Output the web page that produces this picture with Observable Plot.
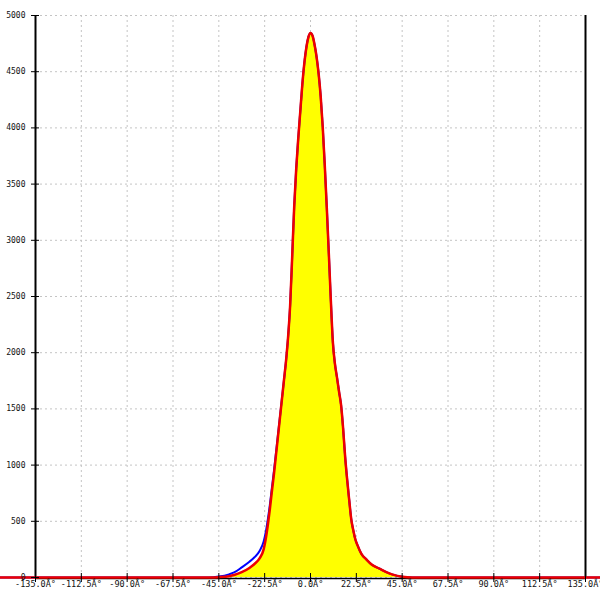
<!DOCTYPE html>
<html>
<head>
<meta charset="utf-8">
<script src="https://cdn.jsdelivr.net/npm/d3@7"></script>
<script src="https://cdn.jsdelivr.net/npm/@observablehq/plot@0.6"></script>
<style>
  html, body { margin: 0; padding: 0; background: white; }
  #chart svg { display: block; }
</style>
</head>
<body>
<div id="chart"></div>
<script>
const angles = [-155, -60, -50, -45, -40, -37.5, -33.75, -30, -27.5, -25, -23, -22, -21, -20, -19, -18, -17, -16, -15, -14, -13, -12, -11, -10, -9, -8, -7, -6, -5, -4, -3, -2, -1, 0, 1, 2, 3, 4, 5, 6, 7, 8, 9, 10, 11, 12, 13, 14, 15, 16, 17, 18, 19, 20, 21, 22, 23, 25, 27.5, 30, 33.75, 37.5, 40, 45, 50, 60, 155];
const redCounts = [0, 0, 0, 3, 12, 22, 47, 85, 120, 170, 250, 340, 460, 600, 760, 910, 1080, 1250, 1420, 1590, 1760, 1930, 2140, 2420, 2850, 3300, 3640, 3910, 4150, 4390, 4580, 4720, 4810, 4845, 4820, 4740, 4630, 4480, 4280, 4010, 3670, 3290, 2880, 2460, 2090, 1900, 1780, 1655, 1535, 1330, 1075, 870, 690, 520, 420, 340, 290, 210, 160, 115, 80, 45, 28, 6, 0, 0, 0];
const blueCounts = [0, 0, 0, 8, 28, 45, 90, 140, 180, 235, 320, 400, 510, 640, 790, 940, 1100, 1265, 1430, 1595, 1760, 1930, 2140, 2420, 2850, 3300, 3640, 3910, 4150, 4390, 4580, 4720, 4810, 4845, 4820, 4740, 4630, 4480, 4280, 4010, 3670, 3290, 2880, 2460, 2090, 1900, 1780, 1655, 1535, 1330, 1075, 870, 690, 520, 420, 340, 290, 210, 160, 115, 80, 45, 28, 6, 0, 0, 0];
const xTicks = [-135, -112.5, -90, -67.5, -45, -22.5, 0, 22.5, 45, 67.5, 90, 112.5, 135];
const yTicks = [0, 500, 1000, 1500, 2000, 2500, 3000, 3500, 4000, 4500, 5000];
const xTickLabels = xTicks.map(d => d.toFixed(1) + "Â°");
const yTickLabels = yTicks.map(d => String(d));

const data = angles.map((a, i) => ({angle: a, red: redCounts[i], blue: blueCounts[i]}));
const xLab = new Map(xTicks.map((d, i) => [d, xTickLabels[i]]));
const yLab = new Map(yTicks.map((d, i) => [d, yTickLabels[i]]));

const chart = Plot.plot({
  width: 600,
  height: 600,
  marginTop: 15,
  marginBottom: 23,
  marginLeft: 35,
  marginRight: 15,
  x: {domain: [-135, 135], label: null},
  y: {domain: [0, 5000], label: null},
  style: {fontFamily: "'DejaVu Sans Mono', monospace", fontSize: "8px", background: "white", color: "#000"},
  marks: [
    Plot.gridX(xTicks, {stroke: "#c4c4c4", strokeOpacity: 1, strokeDasharray: "2,3"}),
    Plot.gridY(yTicks, {stroke: "#c4c4c4", strokeOpacity: 1, strokeDasharray: "2,3"}),
    Plot.areaY(data, {x: "angle", y: "red", fill: "#ffff00", curve: "monotone-x"}),
    Plot.line(data, {x: "angle", y: "blue", stroke: "#0000ff", strokeWidth: 2, curve: "monotone-x"}),
    Plot.ruleY([0], {stroke: "black", strokeWidth: 1.5, dy: 1}),
    Plot.ruleX([-135, 135], {stroke: "black", strokeWidth: 2}),
    Plot.line(data, {x: "angle", y: "red", stroke: "#ee0000", strokeWidth: 2.5, curve: "monotone-x"}),
    Plot.axisX(xTicks, {tickSize: 9, dy: -4, tickFormat: () => "", stroke: "black", label: null}),
    Plot.axisX(xTicks, {tickSize: 0, tickPadding: 3, tickFormat: d => xLab.get(d), fill: "#111", fontSize: 8.5, label: null}),
    Plot.axisY(yTicks, {tickSize: 8, dx: 4, tickFormat: () => "", stroke: "black", label: null}),
    Plot.axisY(yTicks, {tickSize: 0, tickPadding: 10, tickFormat: d => yLab.get(d), fill: "#111", label: null})
  ]
});
document.getElementById("chart").appendChild(chart);
</script>
</body>
</html>
